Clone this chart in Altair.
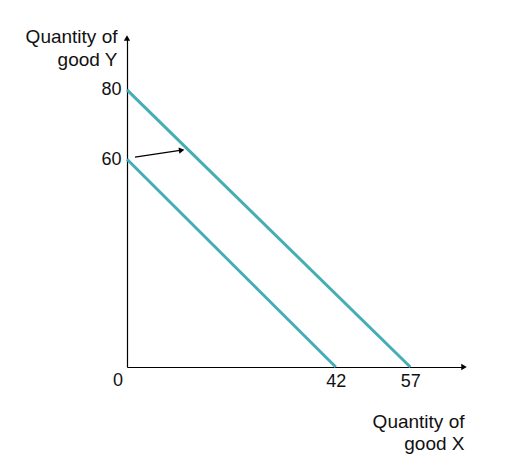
import altair as alt
import pandas as pd

# Budget lines: (x, y) endpoints
line_names = ["old", "old", "new", "new"]
line_x = [0, 42, 0, 57]
line_y = [60, 0, 80, 0]

x_ticks = [42, 57]
y_ticks = [60, 80]

# shift arrow endpoints (data units)
arrow_x = [1.6, 11.0]
arrow_y = [60.6, 62.6]

X_MAX = 67.8
Y_MAX = 95

FONT = "Liberation Sans"
TEAL = "#45adb6"

lines = pd.DataFrame({"name": line_names, "x": line_x, "y": line_y})
arrow = pd.DataFrame({"x": arrow_x, "y": arrow_y})

xs = alt.Scale(domain=[0, X_MAX], nice=False, zero=False)
ys = alt.Scale(domain=[0, Y_MAX], nice=False, zero=False)

budget = alt.Chart(lines).mark_line(strokeWidth=3, color=TEAL, clip=False).encode(
    x=alt.X("x:Q", scale=xs, axis=alt.Axis(
        values=x_ticks, grid=False, ticks=False, domainColor="black", domainWidth=1.2,
        labelFont=FONT, labelFontSize=18, labelColor="#111", labelPadding=5,
        title=["Quantity of", "good X"], titleFont=FONT, titleFontSize=19,
        titleFontWeight="normal", titleColor="#111", titleAlign="right",
        titleAnchor="end", titleX=337, titleY=60, titleBaseline="alphabetic",
        titleLineHeight=22)),
    y=alt.Y("y:Q", scale=ys, axis=alt.Axis(
        values=y_ticks, grid=False, ticks=False, domainColor="black", domainWidth=1.2,
        labelFont=FONT, labelFontSize=18, labelColor="#111", labelPadding=6,
        title=["Quantity of", "good Y"], titleFont=FONT, titleFontSize=19,
        titleFontWeight="normal", titleColor="#111", titleAngle=0,
        titleAlign="right", titleX=-10, titleY=4, titleBaseline="alphabetic",
        titleLineHeight=23)),
    detail="name:N",
)

arrow_line = alt.Chart(arrow).mark_line(color="black", strokeWidth=1.2).encode(
    x=alt.X("x:Q", scale=xs), y=alt.Y("y:Q", scale=ys)
)
arrow_head = alt.Chart(arrow.tail(1)).mark_point(
    shape="triangle-right", filled=True, color="black", size=40, angle=352, opacity=1
).encode(x=alt.X("x:Q", scale=xs), y=alt.Y("y:Q", scale=ys))

x_head = alt.Chart(pd.DataFrame({"x": [X_MAX], "y": [0]})).mark_point(
    shape="triangle-right", filled=True, color="black", size=40, opacity=1, clip=False
).encode(x=alt.X("x:Q", scale=xs), y=alt.Y("y:Q", scale=ys))
y_head = alt.Chart(pd.DataFrame({"x": [0], "y": [Y_MAX]})).mark_point(
    shape="triangle-up", filled=True, color="black", size=40, opacity=1, clip=False
).encode(x=alt.X("x:Q", scale=xs), y=alt.Y("y:Q", scale=ys))

zero = alt.Chart(pd.DataFrame({"x": [0], "y": [0], "t": ["0"]})).mark_text(
    font=FONT, fontSize=18, color="#111", dx=-9, dy=14, clip=False
).encode(x=alt.X("x:Q", scale=xs), y=alt.Y("y:Q", scale=ys), text="t:N")

chart = alt.layer(budget, arrow_line, arrow_head, x_head, y_head, zero).properties(
    width=337, height=329,
    padding={"left": 119, "top": 30, "right": 35, "bottom": 92},
    autosize=alt.AutoSizeParams(type="none"),
).configure(background="white").configure_view(stroke=None, strokeWidth=0)

chart.save("out.html", embed_options={"renderer": "svg", "actions": False})
